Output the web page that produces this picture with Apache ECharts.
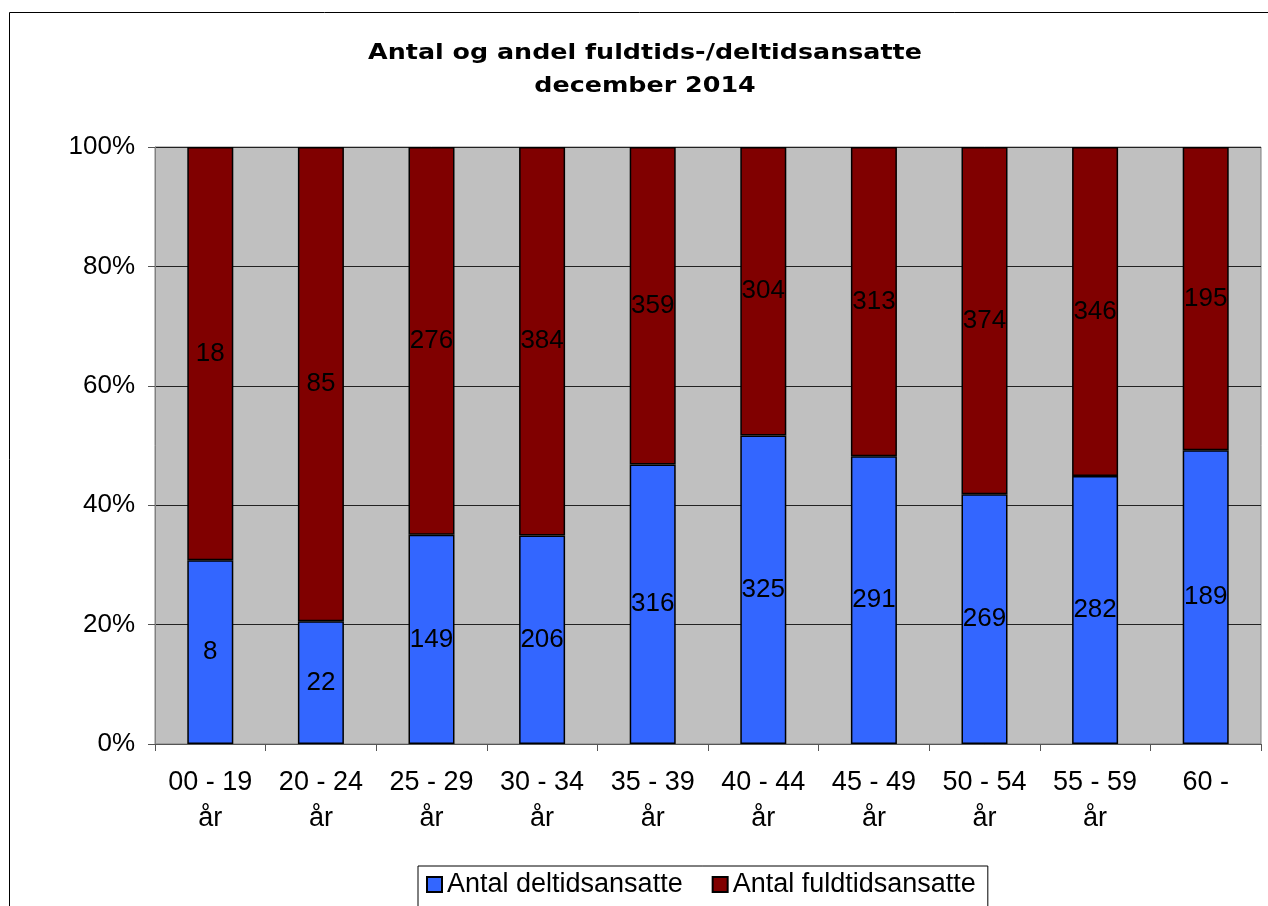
<!DOCTYPE html>
<html><head><meta charset="utf-8">
<script src="https://cdn.jsdelivr.net/npm/echarts@6/dist/echarts.min.js"></script>
<style>html,body{margin:0;padding:0;background:#fff}#c{width:1268px;height:906px}</style>
</head><body><div id="c"></div>
<script>
const categories = ['00 - 19\når','20 - 24\når','25 - 29\når','30 - 34\når','35 - 39\når','40 - 44\når','45 - 49\når','50 - 54\når','55 - 59\når','60 -'];
const deltid = [8,22,149,206,316,325,291,269,282,189];
const fuldtid = [18,85,276,384,359,304,313,374,346,195];
const yTicks = [0,20,40,60,80,100];
const titleLines = ['Antal og andel fuldtids-/deltidsansatte','december 2014'];

const totals = deltid.map((d,i)=>d+fuldtid[i]);
const delData = deltid.map((d,i)=>({value: d/totals[i]*100, raw: d}));
const fulData = fuldtid.map((f,i)=>({value: f/totals[i]*100, raw: f}));

const chart = echarts.init(document.getElementById('c'), null, {renderer:'canvas'});
const FONT = 'Liberation Sans, Arial, sans-serif';
const TFONT = 'DejaVu Sans, Verdana, sans-serif';
chart.setOption({
  animation:false,
  backgroundColor:'#fff',
  graphic:[
    {type:'rect', shape:{x:9.5,y:12.5,width:1300,height:1000}, style:{fill:'none', stroke:'#000', lineWidth:1}, z:-10},
    {type:'text', x:645, y:53, scaleX:1.18, style:{text:titleLines[0], fontFamily:TFONT, fontWeight:'bold', fontSize:21.5, fill:'#000', textAlign:'center', textVerticalAlign:'middle'}},
    {type:'text', x:645, y:86, scaleX:1.18, style:{text:titleLines[1], fontFamily:TFONT, fontWeight:'bold', fontSize:21.5, fill:'#000', textAlign:'center', textVerticalAlign:'middle'}}
  ],
  legend:{
    left:418, top:866, icon:'rect', itemWidth:15, itemHeight:15, itemGap:29,
    borderColor:'#000', borderWidth:1, padding:[5,12,14,8],
    textStyle:{fontFamily:FONT, fontSize:27, color:'#000'},
    data:['Antal deltidsansatte','Antal fuldtidsansatte']
  },
  grid:{left:155, top:147, width:1106, height:597, show:true, backgroundColor:'#c0c0c0', borderColor:'#808080', borderWidth:1},
  xAxis:{
    type:'category', data:categories,
    axisLine:{show:true, lineStyle:{color:'#555'}},
    axisTick:{show:true, length:7, lineStyle:{color:'#555'}},
    axisLabel:{fontFamily:FONT, fontSize:27, lineHeight:36, color:'#000', margin:21, interval:0}
  },
  yAxis:{
    type:'value', min:yTicks[0], max:yTicks[yTicks.length-1], interval:20,
    axisLine:{show:true, lineStyle:{color:'#808080'}},
    axisTick:{show:true, length:7, lineStyle:{color:'#555'}},
    axisLabel:{formatter:'{value}%', fontFamily:FONT, fontSize:26, color:'#000', margin:20},
    splitLine:{show:true, lineStyle:{color:'#222', width:1}}
  },
  series:[
    {name:'Antal deltidsansatte', type:'bar', stack:'t', data:delData, barWidth:46,
     itemStyle:{color:'#3366ff', borderColor:'#000', borderWidth:1.5},
     label:{show:true, position:'inside', formatter:p=>p.data.raw, fontFamily:FONT, fontSize:26, color:'#000'}},
    {name:'Antal fuldtidsansatte', type:'bar', stack:'t', data:fulData, barWidth:46,
     itemStyle:{color:'#800000', borderColor:'#000', borderWidth:1.5},
     label:{show:true, position:'inside', formatter:p=>p.data.raw, fontFamily:FONT, fontSize:26, color:'#000'}}
  ]
});
</script></body></html>
